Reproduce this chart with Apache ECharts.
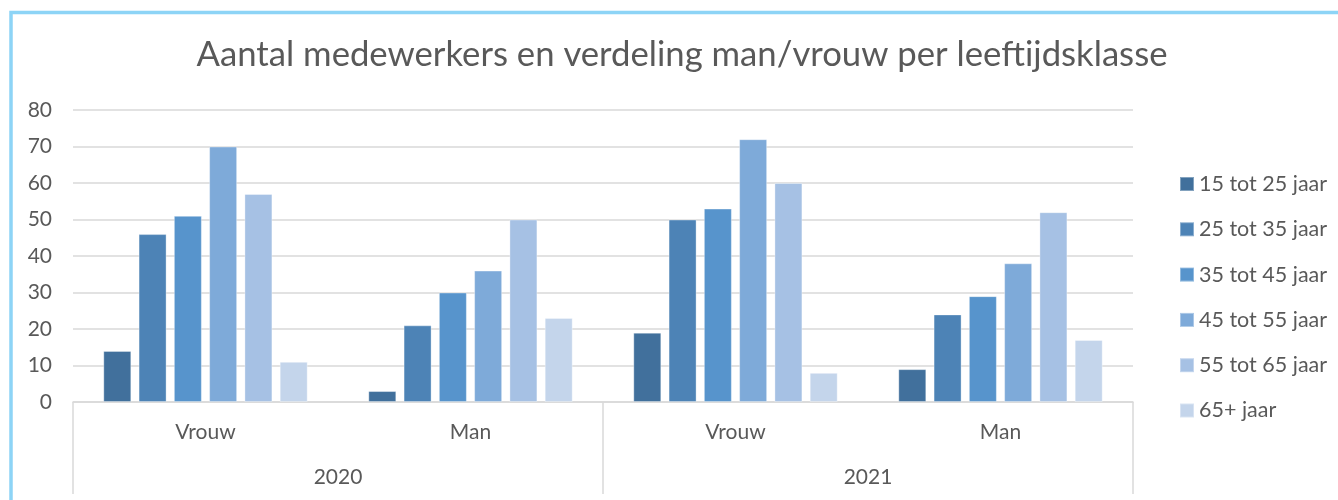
<!DOCTYPE html>
<html>
<head>
<meta charset="utf-8">
<script src="https://cdn.jsdelivr.net/npm/echarts@6/dist/echarts.min.js"></script>
<style>
  html, body { margin: 0; padding: 0; background: #fff; }
  #chart { width: 1338px; height: 500px; }
</style>
</head>
<body>
<div id="chart"></div>
<script>
(function() {

    // categories on the axis (inner level) and years (outer level)
    const genders = ['Vrouw', 'Man', 'Vrouw', 'Man'];
    const years = ['2020', '2021'];
    const ageGroups = ['15 tot 25 jaar', '25 tot 35 jaar', '35 tot 45 jaar', '45 tot 55 jaar', '55 tot 65 jaar', '65+ jaar'];

    // values per age group: 2020 Vrouw, 2020 Man, 2021 Vrouw, 2021 Man
    const age15to25 = [14, 3, 19, 9];
    const age25to35 = [46, 21, 50, 24];
    const age35to45 = [51, 30, 53, 29];
    const age45to55 = [70, 36, 72, 38];
    const age55to65 = [57, 50, 60, 52];
    const age65plus = [11, 23, 8, 17];

    const yTicks = [0, 10, 20, 30, 40, 50, 60, 70, 80];

    const seriesValues = [age15to25, age25to35, age35to45, age45to55, age55to65, age65plus];
    const colors = ['#41709c', '#4d83b6', '#5794cc', '#7eaad9', '#a6c1e4', '#c4d5eb'];

    const fontName = 'Lato';
    const textColor = '#595959';
    const lineColor = '#d9d9d9';

    const chart = echarts.init(document.getElementById('chart'));

    const series = ageGroups.map((name, i) => {
        return {
            name: name,
            type: 'bar',
            xAxisIndex: 0,
            barWidth: 28,
            barGap: '26%',
            itemStyle: {
                color: colors[i],
                borderColor: 'rgba(255,255,255,0.35)',
                borderWidth: 1
            },
            data: seriesValues[i]
        };
    });

    let option = {
        animation: false,
        color: colors,
        textStyle: { fontFamily: fontName },
        title: {
            text: 'Aantal medewerkers en verdeling man/vrouw per leeftijdsklasse',
            left: 677,
            top: 32,
            textAlign: 'center',
            textStyle: {
                fontFamily: fontName,
                fontSize: 34.7,
                fontWeight: 'normal',
                color: textColor
            }
        },
        legend: {
            orient: 'vertical',
            left: 1174,
            top: 168,
            itemWidth: 14,
            itemHeight: 14,
            itemGap: 23.3,
            icon: 'rect',
            textStyle: {
                fontFamily: fontName,
                fontSize: 21.5,
                color: textColor
            },
            data: ageGroups
        },
        grid: {
            left: 73,
            right: 205,
            top: 110,
            bottom: 98,
            containLabel: false
        },
        xAxis: [
            {
                type: 'category',
                data: genders,
                axisLine: { lineStyle: { color: lineColor, width: 1.5 } },
                axisTick: { show: false },
                axisLabel: {
                    margin: 20,
                    fontFamily: fontName,
                    fontSize: 21,
                    color: textColor
                }
            },
            {
                type: 'category',
                data: years,
                position: 'bottom',
                axisLine: { show: false },
                axisTick: {
                    show: true,
                    inside: false,
                    length: 92,
                    interval: 0,
                    lineStyle: { color: lineColor, width: 1.5 }
                },
                axisLabel: {
                    margin: 65,
                    fontFamily: fontName,
                    fontSize: 21,
                    color: textColor
                }
            }
        ],
        yAxis: {
            type: 'value',
            min: yTicks[0],
            max: yTicks[yTicks.length - 1],
            interval: 10,
            axisLine: { show: false },
            axisTick: { show: false },
            splitLine: { lineStyle: { color: lineColor, width: 1.5 } },
            axisLabel: {
                margin: 21,
                fontFamily: fontName,
                fontSize: 21,
                color: textColor
            }
        },
        graphic: [
            {
                type: 'rect',
                shape: { x: 11, y: 12.5, width: 1400, height: 520 },
                style: { fill: 'none', stroke: '#8dd4f6', lineWidth: 3.5 },
                silent: true
            }
        ],
        series: series
    };

    chart.setOption(option);
})();
</script>
</body>
</html>
